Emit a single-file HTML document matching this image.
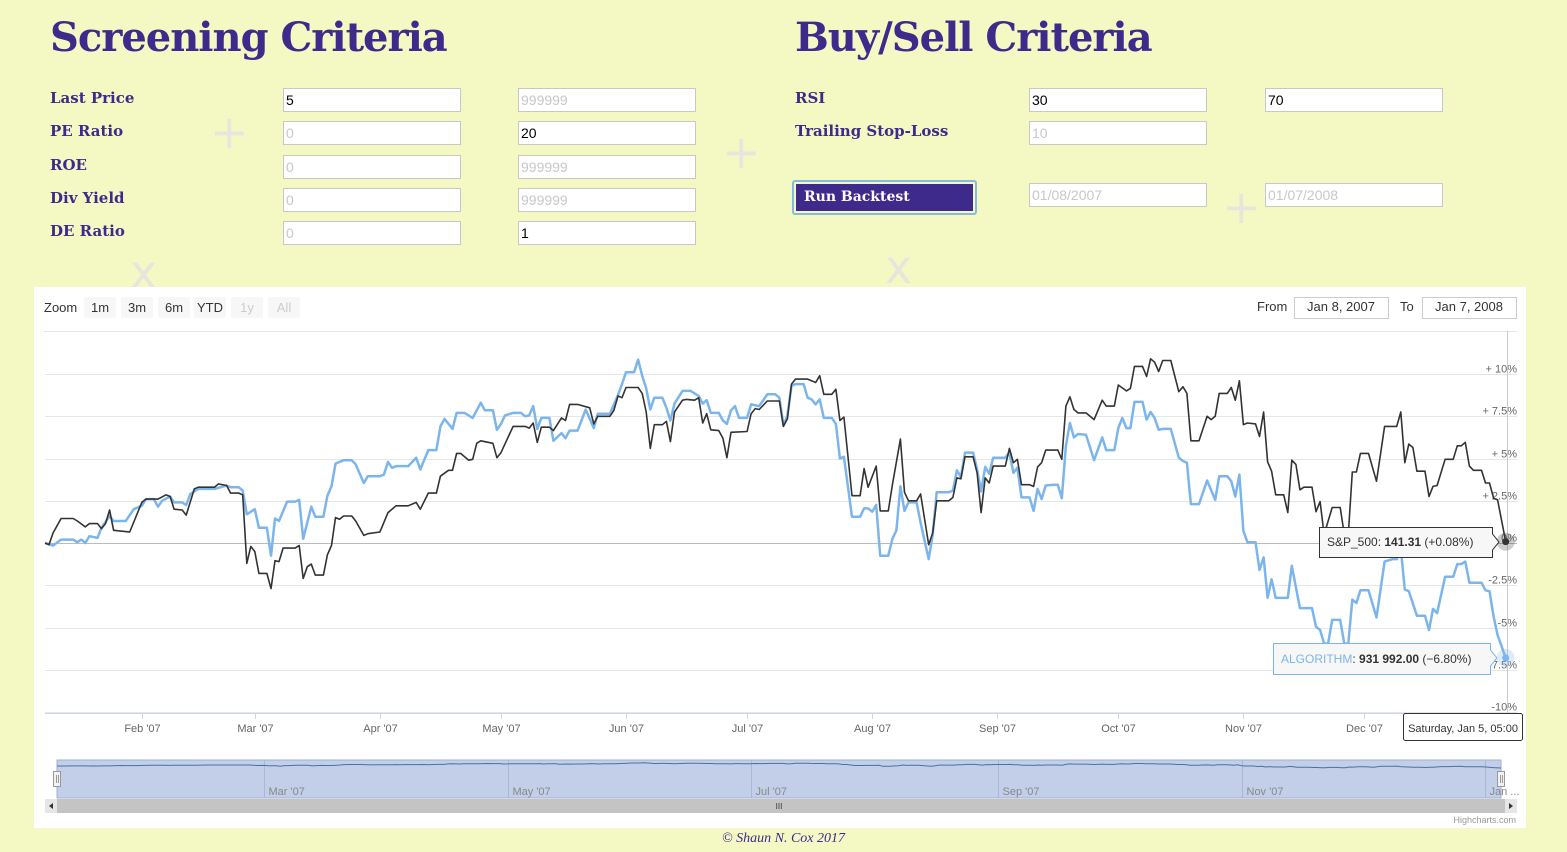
<!DOCTYPE html>
<html><head><meta charset="utf-8"><style>
body{margin:0;width:1567px;height:852px;background:#f4f9c4;position:relative;overflow:hidden;font-family:"Liberation Sans",sans-serif}
.h{position:absolute;top:14px;margin:0;font-family:"DejaVu Serif",serif;font-weight:bold;font-size:40px;color:#3d2a8a;letter-spacing:-1px}
.lb{position:absolute;font-family:"DejaVu Serif",serif;font-weight:bold;font-size:15px;color:#3d2a8a}
.in{position:absolute;width:178px;height:24px;background:#fff;border:1px solid #c8c8c8;box-sizing:border-box;font-size:14px;line-height:23px;padding-left:2px;color:#000}
.ph{color:#c8c8c8}
.bg{position:absolute;color:#e6e6dc;font-size:46px;font-family:"DejaVu Sans",sans-serif}
</style></head><body>
<div class="bg" style="left:210px;top:105px">+</div>
<div class="bg" style="left:722px;top:125px">+</div>
<div class="bg" style="left:1222px;top:180px">+</div>
<div class="bg" style="left:130px;top:245px">x</div>
<div class="bg" style="left:885px;top:240px">x</div>
<h1 class="h" style="left:50px">Screening Criteria</h1>
<h1 class="h" style="left:795px">Buy/Sell Criteria</h1>

<div class="lb" style="left:50px;top:89px">Last Price</div>
<div class="lb" style="left:50px;top:122px">PE Ratio</div>
<div class="lb" style="left:50px;top:156px">ROE</div>
<div class="lb" style="left:50px;top:189px">Div Yield</div>
<div class="lb" style="left:50px;top:222px">DE Ratio</div>
<div class="in" style="left:283px;top:88px">5</div>
<div class="in ph" style="left:518px;top:88px">999999</div>
<div class="in ph" style="left:283px;top:121px">0</div>
<div class="in" style="left:518px;top:121px">20</div>
<div class="in ph" style="left:283px;top:155px">0</div>
<div class="in ph" style="left:518px;top:155px">999999</div>
<div class="in ph" style="left:283px;top:188px">0</div>
<div class="in ph" style="left:518px;top:188px">999999</div>
<div class="in ph" style="left:283px;top:221px">0</div>
<div class="in" style="left:518px;top:221px">1</div>

<div class="lb" style="left:795px;top:89px">RSI</div>
<div class="lb" style="left:795px;top:122px">Trailing Stop-Loss</div>
<div class="in" style="left:1029px;top:88px">30</div>
<div class="in" style="left:1265px;top:88px">70</div>
<div class="in ph" style="left:1029px;top:121px">10</div>
<div style="position:absolute;left:792px;top:180px;width:185px;height:35px;box-sizing:border-box;border:2px solid #8ab8e0;border-radius:3px;padding:2px"><div style="background:#3d2a8a;height:100%;color:#fff;font-family:'DejaVu Serif',serif;font-weight:bold;font-size:14px;line-height:27px;padding-left:8px">Run Backtest</div></div>
<div class="in ph" style="left:1029px;top:183px">01/08/2007</div>
<div class="in ph" style="left:1265px;top:183px">01/07/2008</div>

<div style="position:absolute;left:34px;top:287px;width:1492px;height:541px;background:#fff"></div>
<svg id="c" width="1567" height="852" style="position:absolute;left:0;top:0" font-family="Liberation Sans, sans-serif"></svg>
<div style="position:absolute;left:0;width:1567px;top:831px;text-align:center;font-family:'Liberation Serif',serif;font-style:italic;font-size:14px;color:#3d2a8a">© Shaun N. Cox 2017</div>
<script>
const sp500Days=[0,1,2,4,7,8,10,11,13,14,15,16,17,21,24,25,28,30,31,32,34,35,37,38,42,43,45,46,48,49,50,51,52,53,55,56,57,58,59,62,63,64,65,66,67,69,70,71,72,73,74,76,77,79,80,83,85,87,90,92,93,95,97,98,100,101,102,103,105,106,107,108,111,112,113,116,119,120,121,122,123,125,126,128,129,130,132,135,136,137,140,141,142,143,144,147,148,149,150,151,153,154,155,156,158,159,161,162,163,164,165,167,168,169,170,174,175,176,177,179,182,183,184,185,186,189,191,192,193,195,196,197,198,200,202,203,204,206,207,209,210,212,213,214,216,217,219,220,221,224,225,226,227,228,230,231,232,233,234,235,238,239,240,241,242,244,245,246,247,248,251,252,253,254,255,256,258,260,262,263,265,266,268,269,270,272,273,274,275,276,277,279,281,282,283,284,286,288,289,290,291,293,294,295,296,297,298,300,301,302,303,304,305,307,308,309,310,311,312,314,315,316,317,319,321,322,323,324,325,326,328,330,332,335,336,337,338,339,340,342,343,344,345,347,349,350,351,352,353,354,356,357,358,359,360,362];
const sp500Values=[0,-0.1,0.6,1.45,1.45,1.3,0.95,1.15,1.15,0.85,1.15,1.95,0.75,0.65,2.4,2.6,2.6,2.85,2.75,2.0,1.95,1.65,3.2,3.3,3.3,3.5,3.4,2.95,2.95,2.85,-1.2,-0.2,-0.5,-1.8,-1.8,-2.7,-1.05,-1.1,-0.3,-0.3,-0.15,-2.1,-1.4,-1.25,-1.9,-1.9,-0.7,-0.15,1.5,1.4,1.6,1.6,1.3,0.45,0.55,0.65,1.8,2.2,2.2,2.4,2.0,2.95,2.95,3.95,4.3,4.3,5.3,5.3,4.9,4.95,5.9,6.05,5.9,5.05,5.35,6.9,6.9,6.8,7.1,5.95,6.85,6.85,6.65,7.4,7.25,8.2,8.2,8.0,7.05,7.5,7.5,7.85,8.7,8.6,9.2,9.2,8.85,7.75,5.6,7.0,7.0,7.2,6.0,7.75,8.45,8.5,8.45,8.6,7.1,7.65,6.7,6.65,6.2,5.05,6.55,6.6,7.65,7.95,7.9,8.4,8.4,6.9,7.35,9.4,9.7,9.7,9.5,9.9,8.8,8.8,9.1,7.25,7.45,2.8,2.8,4.4,3.3,4.55,1.9,1.9,3.45,6.15,3.0,2.5,2.5,2.9,-0.1,0.6,2.5,2.5,2.7,3.85,3.8,5.1,5.1,4.15,1.8,3.85,3.55,4.55,4.55,5.6,4.75,4.95,3.45,3.45,3.35,4.5,4.75,5.5,5.5,4.95,8.1,8.65,7.9,7.7,7.7,7.3,8.45,8.1,8.1,9.35,9.0,9.15,10.45,10.45,9.85,10.9,10.7,10.15,10.8,10.8,8.95,9.25,8.85,6.05,6.05,7.5,7.3,7.5,8.85,8.85,9.2,8.45,9.6,7.0,7.1,7.05,6.3,7.75,4.8,4.25,2.85,2.85,1.8,4.9,4.65,3.15,3.3,3.3,1.85,2.45,0.5,2.1,2.1,0.5,0.5,4.2,4.2,5.3,5.3,3.65,6.9,6.9,7.75,4.75,5.85,5.65,4.25,4.25,2.75,3.35,3.4,4.95,4.95,5.75,5.75,5.95,4.55,4.3,4.3,3.55,3.55,2.65,2.55,0.08];
const algoDays=[0,2,4,7,8,9,10,11,13,14,16,17,20,22,24,25,27,28,29,31,32,34,35,36,38,42,45,46,48,49,50,52,53,55,56,57,58,60,62,63,64,66,67,69,70,71,72,74,76,77,79,80,83,84,85,86,87,90,92,93,95,97,98,99,101,102,104,106,108,109,111,112,113,114,116,118,119,120,121,122,123,125,126,128,129,130,132,134,136,137,140,142,143,144,146,147,148,149,150,151,153,154,155,156,158,160,162,163,164,165,167,168,169,170,171,172,174,175,177,179,181,182,183,184,185,186,188,189,190,191,192,193,195,196,197,198,200,202,203,204,205,206,207,209,210,211,212,213,214,216,217,219,220,221,224,225,226,227,228,230,231,232,233,234,235,238,239,240,241,242,244,245,246,247,248,250,251,252,253,254,255,256,258,260,262,263,265,266,267,268,269,270,272,273,274,275,276,277,279,281,282,283,284,286,288,290,291,293,294,295,296,297,298,300,301,302,303,304,305,308,309,311,314,315,316,317,318,319,321,322,323,324,325,326,328,330,332,334,335,336,337,338,340,342,343,344,345,347,349,350,351,352,353,356,357,358,359,360,362];
const algoValues=[0,-0.15,0.2,0.2,0.05,0.2,0,0.4,0.3,0.9,1.6,1.3,1.3,2.0,2.2,2.6,2.6,2.15,2.5,2.75,2.4,2.4,2.25,2.9,3.2,3.2,3.4,3.3,3.3,3.1,1.7,2.0,0.9,0.9,-0.75,1.45,1.3,2.45,2.45,2.55,0.25,2.15,1.55,1.55,2.8,3.35,4.7,4.9,4.9,4.65,3.55,3.95,3.95,4.05,4.8,4.45,4.55,4.55,5.05,4.35,5.5,5.5,6.9,7.35,6.75,7.7,7.7,7.4,8.3,7.85,7.85,6.7,7.05,7.55,7.7,7.7,7.5,7.55,8.1,6.75,7.4,7.4,6.05,6.5,6.2,6.65,6.65,7.9,6.8,7.65,7.65,8.75,9.4,10.1,10.1,10.85,9.9,9.15,7.9,8.6,8.6,8.0,7.25,8.25,9.0,9.0,8.7,8.25,8.45,7.7,7.7,7.25,7.05,7.85,8.1,7.4,7.4,8.2,8.1,8.8,8.8,8.6,6.95,7.55,9.3,9.4,9.4,8.6,8.5,8.2,8.5,7.4,7.4,7.05,5.0,5.1,1.55,1.55,2.05,2.05,1.85,2.25,-0.75,-0.75,0.25,0.75,3.35,1.9,2.4,2.4,1.2,-0.95,0.5,3.0,3.0,3.1,4.3,3.9,5.35,5.35,4.35,3.05,4.5,4.1,5.05,5.05,5.35,4.15,4.45,2.7,2.7,1.9,3.2,2.6,3.4,3.45,3.45,2.65,5.75,7.1,6.25,6.45,6.4,4.9,6.25,5.5,5.5,6.8,7.4,6.8,6.8,8.35,8.35,7.3,7.75,7.4,6.7,6.75,6.75,5.05,4.85,4.75,2.3,2.3,3.7,2.55,3.95,3.95,3.65,2.75,4.05,0.7,0.05,0.05,-1.6,-0.85,-3.25,-2.15,-3.25,-3.25,-1.35,-3.85,-3.85,-4.95,-5.15,-5.95,-5.95,-4.55,-4.55,-5.95,-5.95,-3.35,-3.55,-2.8,-2.8,-4.4,-1.1,-0.95,-0.95,-0.35,-2.75,-2.85,-4.3,-4.3,-5.15,-3.9,-4.15,-2.0,-2.0,-1.25,-1.25,-1.1,-2.35,-2.35,-2.8,-2.85,-4.35,-5.45,-6.8];
const yTickValues=[10,7.5,5,2.5,0,-2.5,-5,-7.5,-10];
const yTickLabels=["+ 10%","+ 7.5%","+ 5%","+ 2.5%","0%","-2.5%","-5%","-7.5%","-10%"];
const monthLabels=["Feb '07","Mar '07","Apr '07","May '07","Jun '07","Jul '07","Aug '07","Sep '07","Oct '07","Nov '07","Dec '07"];
const monthDays=[24,52,83,113,144,174,205,236,266,297,327];
const navLabels=["Mar '07","May '07","Jul '07","Sep '07","Nov '07","Jan ..."];
const navDays=[52,113,174,236,297,358];

const NS="http://www.w3.org/2000/svg",svg=document.getElementById('c');
const X0=45,DX=4.035,Y0=543,DY=16.9;
const xs=d=>X0+d*DX, ys=v=>Y0-v*DY;
function el(t,a,p){const e=document.createElementNS(NS,t);for(const k in a)e.setAttribute(k,a[k]);(p||svg).appendChild(e);return e;}
function tx(x,y,s,a){const e=el('text',Object.assign({x:x,y:y},a));e.textContent=s;return e;}
tx(44,312,"Zoom",{'font-size':13,fill:'#333'});
const zb=[["1m",84,'#333'],["3m",121,'#333'],["6m",158,'#333'],["YTD",194,'#333'],["1y",231,'#ccc'],["All",268,'#ccc']];
zb.forEach(b=>{const g=el('g',{});


el('rect',{x:b[1],y:297,width:32,height:21,fill:'#f7f7f7',rx:2},g);
const t=tx(b[1]+16,312,b[0],{'font-size':13,fill:b[2],'text-anchor':'middle'});g.appendChild(t);});
tx(1257,311,"From",{'font-size':13,fill:'#333'});
tx(1400,311,"To",{'font-size':13,fill:'#333'});
const f1=el('g',{});


el('rect',{x:1294.5,y:297.5,width:94,height:21,fill:'#fff',stroke:'#ccc'},f1);f1.appendChild(tx(1341,311,"Jan 8, 2007",{'font-size':13,fill:'#333','text-anchor':'middle'}));
const f2=el('g',{});


el('rect',{x:1422.5,y:297.5,width:94,height:21,fill:'#fff',stroke:'#ccc'},f2);f2.appendChild(tx(1469,311,"Jan 7, 2008",{'font-size':13,fill:'#333','text-anchor':'middle'}));
el('line',{x1:44,x2:1517,y1:331.5,y2:331.5,stroke:'#e6e6e6'});
yTickValues.forEach((v,i)=>{const y=Math.round(ys(v))+0.5;
const l=el('line',{x1:45,x2:1517,y1:y,y2:y,stroke:v===0?'#bbb':'#e6e6e6','stroke-width':1});


const t=tx(1517,y-2,yTickLabels[i],{'font-size':11,fill:'#666','text-anchor':'end'});

});
el('line',{x1:45,x2:1517,y1:713.5,y2:713.5,stroke:'#ccd6eb'});
monthDays.forEach((d,i)=>{const x=Math.round(xs(d))+0.5;
el('line',{x1:x,x2:x,y1:713,y2:719,stroke:'#ccd6eb'});
const t=tx(x,732,monthLabels[i],{'font-size':11,fill:'#666','text-anchor':'middle'});

});
el('line',{x1:1507.5,x2:1507.5,y1:331,y2:713,stroke:'#ccc'});
function path(days,vals,fx,fy){return days.map((d,i)=>(i?'L':'M')+fx(d).toFixed(1)+','+fy(vals[i]).toFixed(1)).join('');}
const pa=el('path',{d:path(algoDays,algoValues,xs,ys),fill:'none',stroke:'#7cb5ec','stroke-width':2.5,'stroke-linejoin':'round'});


const ps=el('path',{d:path(sp500Days,sp500Values,xs,ys),fill:'none',stroke:'#333','stroke-width':1.6,'stroke-linejoin':'round'});


const le=sp500Days.length-1,la=algoDays.length-1;
el('circle',{cx:xs(sp500Days[le]),cy:ys(sp500Values[le]),r:9,fill:'#333','fill-opacity':0.25});
el('circle',{cx:xs(sp500Days[le]),cy:ys(sp500Values[le]),r:3.5,fill:'#333'});
el('circle',{cx:xs(algoDays[la]),cy:ys(algoValues[la]),r:9,fill:'#7cb5ec','fill-opacity':0.25});
el('circle',{cx:xs(algoDays[la]),cy:ys(algoValues[la]),r:3.5,fill:'#7cb5ec'});
const t1=el('g',{});


el('path',{d:'M1319.5,527.5H1492.5V534L1499,542L1492.5,550V557.5H1319.5Z',fill:'#f7f7f7',stroke:'#333'},t1);
const tt1=tx(1327,546,"",{'font-size':12,fill:'#333'},t1);t1.appendChild(tt1);
tt1.innerHTML='S&amp;P_500: <tspan font-weight="bold">141.31</tspan> (+0.08%)';
const t2=el('g',{});


el('path',{d:'M1273.5,643.5H1490.5V650L1497,658L1490.5,666V674.5H1273.5Z',fill:'#f7f7f7',stroke:'#7cb5ec'},t2);
const tt2=tx(1281,663,"",{'font-size':12,fill:'#333'},t2);t2.appendChild(tt2);
tt2.innerHTML='<tspan fill="#7cb5ec">ALGORITHM</tspan>: <tspan font-weight="bold">931 992.00</tspan> (−6.80%)';
const t3=el('g',{});


el('rect',{x:1403.5,y:713.5,width:119,height:27,fill:'#fff',stroke:'#333',rx:2},t3);
t3.appendChild(tx(1463,732,"Saturday, Jan 5, 05:00",{'font-size':11,fill:'#333','text-anchor':'middle'}));
const NX0=57,NDX=(1501-57)/362,nx=d=>NX0+d*NDX,ny=v=>766-v*0.3;
const nv=el('rect',{x:57,y:760,width:1444,height:38,fill:'#c3cfe8',stroke:'#9fb0d6'});


navDays.forEach((d,i)=>{const x=Math.round(nx(d))+0.5;el('line',{x1:x,x2:x,y1:760,y2:798,stroke:'#aab8d8'});
const t=tx(x+4,795,navLabels[i],{'font-size':11,fill:'#888'});

});
el('path',{d:path(algoDays,algoValues,nx,ny),fill:'none',stroke:'#4572a7','stroke-width':1});
[57,1501].forEach(x=>{el('rect',{x:x-3.5,y:771.5,width:7,height:15,fill:'#f2f2f2',stroke:'#999'});el('line',{x1:x-0.5,x2:x-0.5,y1:775,y2:783,stroke:'#999'});el('line',{x1:x+1.5,x2:x+1.5,y1:775,y2:783,stroke:'#999'});});
const sb=el('rect',{x:45,y:799,width:1472,height:14,fill:'#c4c4c4'});


el('rect',{x:45,y:799,width:12,height:14,fill:'#e6e6e6'});el('rect',{x:1505,y:799,width:12,height:14,fill:'#e6e6e6'});
el('path',{d:'M53,803L49,806L53,809Z',fill:'#333'});el('path',{d:'M1509,803L1513,806L1509,809Z',fill:'#333'});
tx(779,809,"III",{'font-size':8,fill:'#333','text-anchor':'middle'});
tx(1516,823,"Highcharts.com",{'font-size':9,fill:'#999','text-anchor':'end'});
</script>
</body></html>
